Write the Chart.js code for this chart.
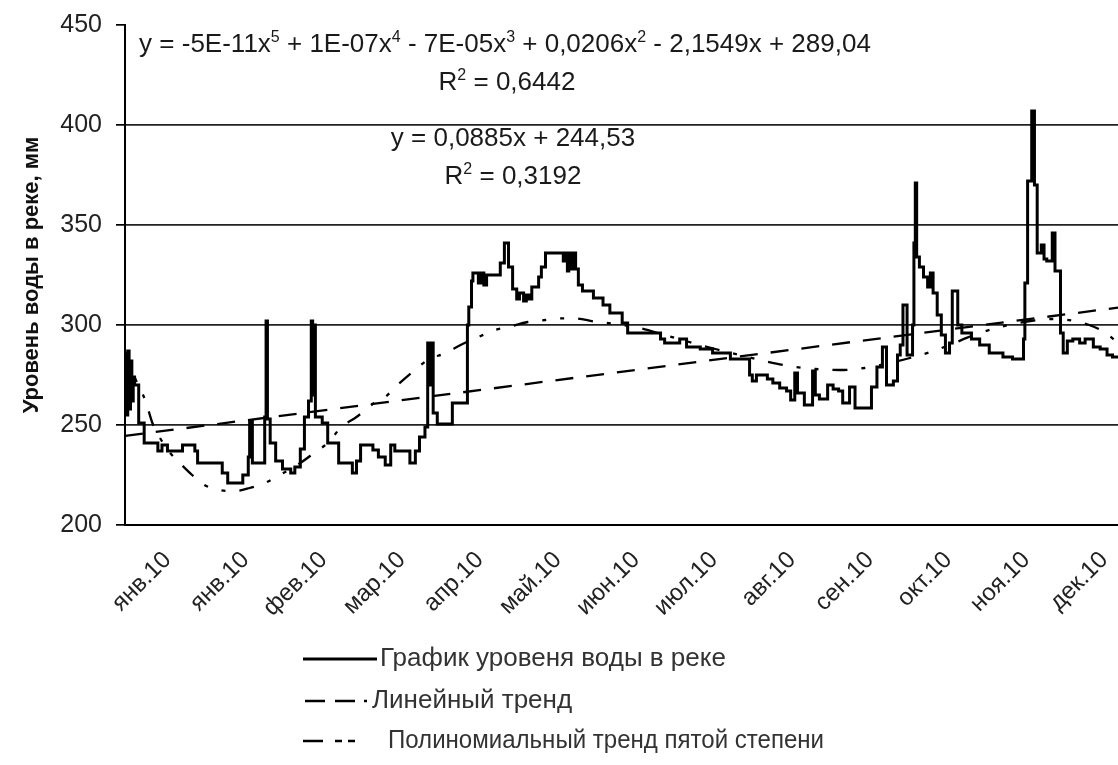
<!DOCTYPE html>
<html>
<head>
<meta charset="utf-8">
<script src="https://cdn.jsdelivr.net/npm/chart.js@4.4.1/dist/chart.umd.min.js"></script>
<style>
  html, body { margin: 0; padding: 0; background: #fff; }
  #wrap { width: 1118px; height: 765px; position: relative; }
</style>
</head>
<body>
<div id="wrap"><canvas id="c"></canvas></div>
<script>
// River level readings: sample number and level, mm (each level holds until the next sample listed)
const gaugeSample = [0, 1, 2, 3, 4, 5, 6, 7, 10, 14, 24, 27, 31, 42, 51, 53, 71, 75, 86, 90, 91, 93, 102, 103, 104, 106, 110, 115, 121, 124, 128, 131, 134, 136, 137, 138, 139, 144, 148, 156, 166, 169, 172, 181, 185, 190, 194, 197, 208, 212, 215, 219, 221, 223, 224, 225, 228, 239, 250, 251, 253, 254, 258, 260, 262, 264, 274, 277, 280, 283, 286, 288, 291, 293, 295, 297, 302, 304, 307, 320, 321, 323, 324, 326, 327, 329, 331, 334, 342, 349, 354, 363, 367, 391, 394, 405, 410, 420, 429, 442, 456, 458, 461, 469, 473, 478, 483, 486, 489, 491, 496, 502, 504, 507, 513, 517, 521, 524, 529, 533, 545, 549, 553, 556, 561, 564, 566, 568, 571, 575, 576, 577, 578, 580, 583, 586, 588, 590, 593, 596, 599, 602, 604, 608, 611, 618, 624, 631, 641, 648, 656, 657, 659, 662, 664, 666, 669, 671, 673, 677, 679, 683, 685, 688, 692, 697, 701, 707, 712, 717, 721, 725];
const gaugeLevel = [285, 255, 287, 258, 282, 262, 274, 270, 251, 241, 237, 240, 237, 240, 237, 231, 226, 221, 225, 234, 252, 231, 254, 302, 253, 241, 232, 228, 226, 229, 238, 254, 262, 302, 265, 300, 254, 251, 241, 231, 226, 232, 240, 237.5, 234, 230, 240, 237, 231, 237, 244, 249, 291, 270, 291, 256, 250.5, 261, 300, 309, 322, 326, 321, 326, 320, 325, 331, 341, 329, 318, 313, 316, 312, 315, 313, 319, 324, 329, 336, 332, 336, 327, 336, 328, 336, 328, 320, 317, 313.5, 310, 306, 301, 296, 293, 291, 293, 289, 288, 286, 283, 275, 272, 275, 273, 271, 268.5, 267, 262.5, 276, 266, 260, 277, 265, 263, 270, 268, 267, 261, 269, 258.5, 269, 279, 289, 270, 272, 285, 290, 310, 285, 300, 341, 371, 334, 329, 324, 319, 326, 316, 305, 295, 286, 291, 317, 300, 296, 293, 290, 286, 284, 283, 293, 321, 372, 407, 370, 336, 340, 333, 332, 346, 327, 296, 286, 292, 293, 291, 293, 289, 288, 285, 284, 284];

// Fifth-degree polynomial trend, read at intervals along the curve
const polySample = [0, 7, 15, 20, 26, 33, 40, 49, 58, 69, 80, 91, 102, 113, 128, 139, 148, 158, 169, 182, 190, 199, 209, 221, 234, 245, 258, 270, 280, 294, 307, 319, 328, 343, 358, 376, 394, 412, 431, 449, 467, 485, 504, 522, 540, 558, 573, 588, 602, 620, 639, 661, 679, 693, 704, 715, 725];
const polyLevel = [287, 274, 262, 251, 243, 236, 231, 225, 220, 217.5, 217, 218.5, 221, 225, 231, 236.5, 241, 249, 254, 261, 264, 270, 276, 282.5, 286, 290, 294, 297.5, 299, 301.5, 302.5, 303.3, 303.3, 301.7, 300.5, 298.5, 295, 291.5, 288, 285, 282, 279.5, 278, 277.5, 278.5, 281, 283.5, 286.5, 290, 295, 299, 302, 303, 302, 300, 296.5, 291];

// Linear trend: y = 0,0885x + 244,53
const linSlope = 0.0885;
const linIntercept = 244.53;
const lastSample = 725;

// Axis labels
const monthLabels = ['янв.10', 'янв.10', 'фев.10', 'мар.10', 'апр.10', 'май.10', 'июн.10', 'июл.10', 'авг.10', 'сен.10', 'окт.10', 'ноя.10', 'дек.10'];
const monthSamples = [31, 88, 145, 202, 259, 316, 373, 430, 487, 544, 601, 658, 715];
const levelTicks = [200, 250, 300, 350, 400, 450];

const seriesNames = ['График уровеня воды в реке', 'Линейный тренд', 'Полиномиальный тренд пятой степени'];
const polyEquation = 'y = -5E-11x^5 + 1E-07x^4 - 7E-05x^3 + 0,0206x^2 - 2,1549x + 289,04';
const polyR2 = 'R^2 = 0,6442';
const linEquation = 'y = 0,0885x + 244,53';
const linR2 = 'R^2 = 0,3192';

const FONT = '"Liberation Sans", Arial, sans-serif';
const LIN_DASH = [18, 13];
const POLY_DASH = [15, 14, 4, 14, 4, 14];

const gaugePoints = gaugeSample.map((s, i) => ({ x: s, y: gaugeLevel[i] }));
const polyPoints = polySample.map((s, i) => ({ x: s, y: polyLevel[i] }));
const linPoints = [0, lastSample].map(s => ({ x: s, y: linIntercept + linSlope * s }));

// Text with ^n superscripts, centred on (cx, cy)
function drawRich(ctx, str, cx, cy, size, color) {
  const parts = [];
  for (let i = 0; i < str.length; i++) {
    if (str[i] === '^') { parts.push({ t: str[i + 1], sup: true }); i++; }
    else {
      const last = parts[parts.length - 1];
      if (last && !last.sup) last.t += str[i]; else parts.push({ t: str[i], sup: false });
    }
  }
  const normal = size + 'px ' + FONT;
  const small = Math.round(size * 0.62) + 'px ' + FONT;
  let total = 0;
  parts.forEach(p => { ctx.font = p.sup ? small : normal; p.w = ctx.measureText(p.t).width; total += p.w; });
  let x = cx - total / 2;
  const base = cy + size * 0.36;
  ctx.fillStyle = color;
  ctx.textAlign = 'left';
  ctx.textBaseline = 'alphabetic';
  parts.forEach(p => {
    ctx.font = p.sup ? small : normal;
    ctx.fillText(p.t, x, p.sup ? base - size * 0.4 : base);
    x += p.w;
  });
}

const overlayPlugin = {
  id: 'overlay',
  afterDraw(chart) {
    const ctx = chart.ctx;
    const a = chart.chartArea;
    ctx.save();
    // trend equations
    drawRich(ctx, polyEquation, a.left + 380, a.top + 18, 26, '#1a1a1a');
    drawRich(ctx, polyR2, a.left + 382, a.top + 56, 26, '#1a1a1a');
    drawRich(ctx, linEquation, a.left + 388, a.top + 112, 26, '#1a1a1a');
    drawRich(ctx, linR2, a.left + 388, a.top + 150, 26, '#1a1a1a');

    // legend
    const rows = [
      { y: a.bottom + 134, x0: 303, x1: 377, dash: [], tx: 380 },
      { y: a.bottom + 176, x0: 305, x1: 367, dash: [20, 10, 20, 9, 3, 20], tx: 372 },
      { y: a.bottom + 216, x0: 303, x1: 356, dash: [20, 12, 7, 6, 7, 20], tx: 388 }
    ];
    rows.forEach((r, i) => {
      ctx.beginPath();
      ctx.setLineDash(r.dash);
      ctx.lineWidth = i === 0 ? 3 : 2.4;
      ctx.strokeStyle = '#000';
      ctx.moveTo(r.x0, r.y);
      ctx.lineTo(r.x1, r.y);
      ctx.stroke();
      ctx.setLineDash([]);
      ctx.font = '26px ' + FONT;
      ctx.fillStyle = '#333';
      ctx.textAlign = 'left';
      ctx.textBaseline = 'middle';
      ctx.fillText(seriesNames[i], r.tx, r.y, 436);
    });
    ctx.restore();
  }
};

new Chart(document.getElementById('c'), {
  type: 'line',
  data: {
    datasets: [
      {
        label: seriesNames[0], data: gaugePoints, order: 0,
        borderColor: '#000', borderWidth: 3, stepped: 'before',
        pointRadius: 0, fill: false
      },
      {
        label: seriesNames[1], data: linPoints, order: 1,
        borderColor: '#000', borderWidth: 2.3, borderDash: LIN_DASH,
        pointRadius: 0, fill: false
      },
      {
        label: seriesNames[2], data: polyPoints, order: 2,
        borderColor: '#000', borderWidth: 2.3, borderDash: POLY_DASH,
        cubicInterpolationMode: 'monotone', pointRadius: 0, fill: false
      }
    ]
  },
  options: {
    responsive: true,
    maintainAspectRatio: false,
    animation: false,
    devicePixelRatio: 1,
    layout: { padding: { left: 0, right: 0, top: 25, bottom: 0 } },
    plugins: { legend: { display: false }, tooltip: { enabled: false } },
    scales: {
      x: {
        type: 'linear',
        min: 0,
        max: lastSample,
        grid: { display: false },
        border: { display: true, color: '#000', width: 2 },
        afterBuildTicks: scale => { scale.ticks = monthSamples.map(v => ({ value: v })); },
        afterFit: scale => { scale.height = 240; scale.paddingLeft = 0; scale.paddingRight = 0; },
        ticks: {
          autoSkip: false,
          maxRotation: 45,
          minRotation: 45,
          padding: 13,
          color: '#222',
          font: { family: FONT, size: 24 },
          callback: (v, i) => monthLabels[i]
        }
      },
      y: {
        min: 200,
        max: 450,
        afterBuildTicks: scale => { scale.ticks = levelTicks.map(v => ({ value: v })); },
        afterFit: scale => { scale.width = 125; scale.paddingTop = 0; scale.paddingBottom = 0; },
        border: { display: true, color: '#000', width: 2 },
        grid: {
          color: c => (c.tick && c.tick.value === 450) ? 'rgba(0,0,0,0)' : '#222',
          tickColor: '#000',
          lineWidth: 1.7,
          tickLength: 9
        },
        ticks: {
          padding: 14,
          color: '#222',
          font: { family: FONT, size: 25 }
        },
        title: {
          display: true,
          text: 'Уровень воды в реке, мм',
          color: '#111',
          font: { family: FONT, size: 22, weight: 'bold' },
          padding: { top: 19, bottom: 0 }
        }
      }
    }
  },
  plugins: [overlayPlugin]
});
</script>
</body>
</html>
